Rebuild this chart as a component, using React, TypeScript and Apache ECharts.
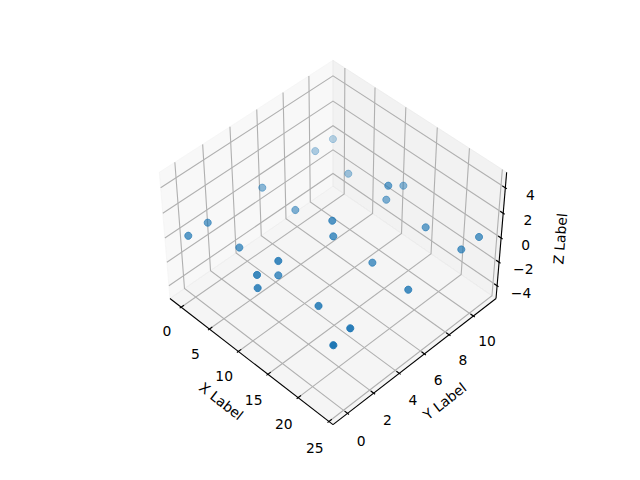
import React, { useEffect, useRef } from "react";
import * as echarts from "echarts";

const xLim = [-2, 25.65];
const yLim = [-1.1, 11.9];
const zLim = [-5.1, 5.2];
const xTicks = [0, 5, 10, 15, 20, 25];
const yTicks = [0, 2, 4, 6, 8, 10];
const zTicks = [-4, -2, 0, 2, 4];
const xValues = [-1.86, -1.53, -0.22, 5.08, 0.75, 1.22, 6.01, 13.07, 13.93, 4.05, 13.42, 11.52, 12.04, 18.91, 24.87, 24.15, 13.05, 12.22, 11.81, 12.88, 18.85, 24.96, 17.72, 24.1, 24.38];
const yValues = [11.83, 10.23, 5.45, 5.61, 0.93, -0.68, 0.97, 4.76, 4.43, 10.29, 8.92, 11.13, 9.49, 9.23, 10.44, 9.42, 0.75, -0.44, 1.26, -0.71, 1.02, -0.75, 5.64, 5.28, 0.76];
const zValues = [-1, -0.8, -0.05, -0.2, 0.7, 1, 0.5, 2.3, 1.6, -0.9, 2.2, 0, 0.2, 0.5, 0.9, 0.4, 2.1, 1.6, 0.1, 1, 0.4, 1, -0.1, 0.3, 0.9];

const D2R = Math.PI / 180;
const elev = 45 * D2R, azim = -45 * D2R, dist = 10;
const f = (1.8294640721620434 * 25 / 24) / Math.sqrt(41);
const box = [4 * f, 4 * f, 3 * f];
const R = box.map((b) => b / 2);
const w = [Math.cos(elev) * Math.cos(azim), Math.cos(elev) * Math.sin(azim), Math.sin(elev)];
const eye = R.map((r, i) => r + dist * w[i]);
const cross = (a: number[], b: number[]) => [a[1] * b[2] - a[2] * b[1], a[2] * b[0] - a[0] * b[2], a[0] * b[1] - a[1] * b[0]];
const dot = (a: number[], b: number[]) => a[0] * b[0] + a[1] * b[1] + a[2] * b[2];
const uu = cross([0, 0, 1], w);
const un = Math.hypot(uu[0], uu[1], uu[2]);
const u = uu.map((c) => c / un);
const v = cross(w, u);
const scale = 369.6 / 0.185;
const cx0 = 328, cy0 = 242.4, vc = -0.0025;
const proj = (x: number, y: number, z: number) => {
  const P = [(x - xLim[0]) / (xLim[1] - xLim[0]) * box[0], (y - yLim[0]) / (yLim[1] - yLim[0]) * box[1], (z - zLim[0]) / (zLim[1] - zLim[0]) * box[2]];
  const d = P.map((c, i) => c - eye[i]);
  const W = -dot(d, w);
  return [cx0 + (dot(d, u) / W - vc) * scale, cy0 - (dot(d, v) / W - vc) * scale, W];
};

const GRID = "#b0b0b0";
const pts = (list: number[][]) => list.map((p) => { const q = proj(p[0], p[1], p[2]); return [q[0], q[1]]; });

function frame() {
  const [x0, x1] = xLim, [y0, y1] = yLim, [z0, z1] = zLim;
  const ch: any[] = [];
  const pane = (list: number[][], g: number) => ch.push({ type: "polygon", shape: { points: pts(list) }, style: { fill: `rgba(${g},${g},${g},0.5)`, stroke: `rgba(${g},${g},${g},0.5)`, lineWidth: 1 } });
  pane([[x0, y0, z0], [x0, y1, z0], [x0, y1, z1], [x0, y0, z1]], 242);
  pane([[x0, y1, z0], [x1, y1, z0], [x1, y1, z1], [x0, y1, z1]], 230);
  pane([[x0, y0, z0], [x1, y0, z0], [x1, y1, z0], [x0, y1, z0]], 236);
  const line = (list: number[][], stroke: string) => ch.push({ type: "polyline", shape: { points: pts(list) }, style: { stroke, lineWidth: 1.11, fill: "none" } });
  xTicks.forEach((t) => line([[t, y0, z0], [t, y1, z0], [t, y1, z1]], GRID));
  yTicks.forEach((t) => line([[x1, t, z0], [x0, t, z0], [x0, t, z1]], GRID));
  zTicks.forEach((t) => line([[x0, y0, t], [x0, y1, t], [x1, y1, t]], GRID));
  line([[x0, y0, z0], [x1, y0, z0]], "#000");
  line([[x1, y0, z0], [x1, y1, z0]], "#000");
  line([[x1, y1, z0], [x1, y1, z1]], "#000");
  const xr = x1 - x0, yr = y1 - y0;
  xTicks.forEach((t) => line([[t, y0 + 0.0167 * yr, z0], [t, y0 - 0.0083 * yr, z0]], "#000"));
  yTicks.forEach((t) => line([[x1 - 0.0167 * xr, t, z0], [x1 + 0.0083 * xr, t, z0]], "#000"));
  zTicks.forEach((t) => line([[x1 - 0.0167 * xr, y1, t], [x1 + 0.0083 * xr, y1, t]], "#000"));
  const text = (s: string, p: number[], dx: number, dy: number, rot = 0) => ch.push({ type: "text", x: p[0] + dx, y: p[1] + dy, rotation: rot * D2R, style: { text: s, align: "center", verticalAlign: "middle", fontFamily: "DejaVu Sans", fontSize: 13.89, fill: "#000" } });
  xTicks.forEach((t) => text(String(t), proj(t, y0 - 0.17 * yr, z0), 15.5, 3.5));
  yTicks.forEach((t) => text(String(t), proj(x1 + 0.17 * xr, t, z0), -16, 4.5));
  zTicks.forEach((t) => text(String(t).replace("-", "\u2212"), proj(x1 + 0.12 * xr, y1, t), 3, -7.5));
  text("X Label", proj((x0 + x1) / 2, y0 - 0.3 * yr, z0), 25, 3, -38);
  text("Y Label", proj(x1 + 0.3 * xr, (y0 + y1) / 2, z0), -25, 3, 38);
  text("Z Label", proj(x1 + 0.26 * xr, y1, (z0 + z1) / 2), 12, -30, 85.5);
  return { type: "group", children: ch };
}

function points() {
  const all = xValues.map((x, i) => proj(x, yValues[i], zValues[i]));
  const ws = all.map((q) => q[2]);
  const lo = Math.min(...ws), hi = Math.max(...ws);
  return all.map((q) => {
    const a = 0.3 + 0.7 * (hi - q[2]) / (hi - lo);
    const c = `rgba(31,119,180,${a.toFixed(3)})`;
    return { value: [q[0], q[1]], w: q[2], itemStyle: { color: c, borderColor: c, borderWidth: 0.9, opacity: 1 } };
  }).sort((p, q) => q.w - p.w);
}

export default function App() {
  const ref = useRef<HTMLDivElement>(null);
  useEffect(() => {
    const chart = echarts.init(ref.current!, null, { renderer: "svg" });
    chart.setOption({
      animation: false,
      grid: { left: 0, right: 0, top: 0, bottom: 0 },
      xAxis: { type: "value", min: 0, max: 640, show: false },
      yAxis: { type: "value", min: 0, max: 480, inverse: true, show: false },
      series: [
        { type: "custom", coordinateSystem: "none", data: [0], renderItem: () => frame(), silent: true, z: 1 },
        { type: "scatter", data: points(), symbolSize: 7.2, silent: true, z: 2, itemStyle: { opacity: 1 } },
      ],
    });
    return () => chart.dispose();
  }, []);
  return (
    <div style={{ position: "absolute", left: 0, top: 0, width: 640, height: 480 }}>
      <div ref={ref} style={{ width: 640, height: 480 }} />
    </div>
  );
}
